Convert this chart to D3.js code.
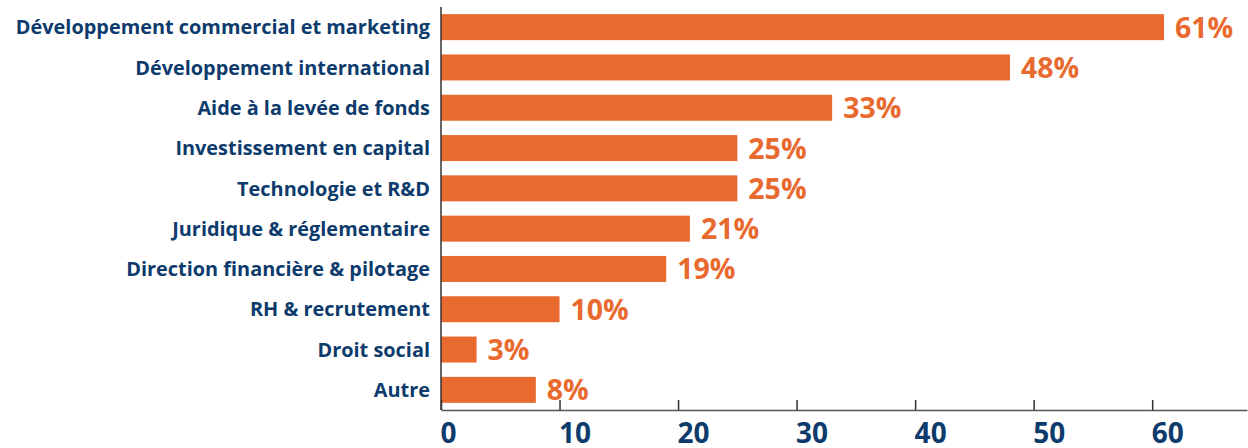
<!DOCTYPE html>
<html>
<head>
<meta charset="utf-8">
<script src="https://cdn.jsdelivr.net/npm/d3@7"></script>
<style>
  html, body { margin: 0; padding: 0; background: #ffffff; }
  svg { display: block; }
</style>
</head>
<body>
<svg id="chart" width="1248" height="448"></svg>
<script>
// Priorités d'accompagnement (% des répondants)
const categories = [
  "Développement commercial et marketing",
  "Développement international",
  "Aide à la levée de fonds",
  "Investissement en capital",
  "Technologie et R&D",
  "Juridique & réglementaire",
  "Direction financière & pilotage",
  "RH & recrutement",
  "Droit social",
  "Autre"
];
const values = [61, 48, 33, 25, 25, 21, 19, 10, 3, 8];
const tickValues = [0, 10, 20, 30, 40, 50, 60];

const orange = "#e96a2e";
const navy = "#0d3b6c";
const font = "'Open Sans', 'Noto Sans', sans-serif";

const svg = d3.select("#chart");

const x = d3.scaleLinear().domain([0, 68]).range([441, 1247]);
const y = d3.scaleBand()
  .domain(categories)
  .range([7, 410])
  .paddingInner(0.355)
  .paddingOuter(0.1775);

// Bars
svg.append("g")
  .selectAll("rect")
  .data(values)
  .join("rect")
  .attr("x", x(0))
  .attr("y", (d, i) => y(categories[i]))
  .attr("width", d => x(d) - x(0))
  .attr("height", y.bandwidth())
  .attr("fill", orange);

// Value labels
svg.append("g")
  .selectAll("text")
  .data(values)
  .join("text")
  .attr("x", d => x(d) + 11)
  .attr("y", (d, i) => y(categories[i]) + y.bandwidth() / 2)
  .attr("dy", "0.37em")
  .attr("font-family", font)
  .attr("font-weight", 700)
  .attr("font-size", 28.5)
  .attr("fill", orange)
  .text(d => d + "%");

// Category labels
svg.append("g")
  .selectAll("text")
  .data(categories)
  .join("text")
  .attr("x", 430)
  .attr("y", d => y(d) + y.bandwidth() / 2)
  .attr("dy", "0.36em")
  .attr("text-anchor", "end")
  .attr("font-family", font)
  .attr("font-weight", 700)
  .attr("font-size", 19.9)
  .attr("fill", navy)
  .text(d => d);

// Vertical baseline
svg.append("line")
  .attr("x1", x(0)).attr("x2", x(0))
  .attr("y1", 7).attr("y2", 410)
  .attr("stroke", "#333").attr("stroke-width", 1.5);

// Bottom axis
const axis = d3.axisBottom(x)
  .tickValues(tickValues)
  .tickSizeInner(-10)
  .tickSizeOuter(0)
  .tickFormat(d3.format("d"));

const gx = svg.append("g")
  .attr("transform", "translate(0,410)")
  .call(axis);

gx.select(".domain").attr("stroke", "#555").attr("stroke-width", 1.5);
gx.selectAll(".tick line").attr("stroke", "#333").attr("stroke-width", 1.5);
gx.selectAll(".tick text")
  .attr("text-anchor", "start")
  .attr("x", -1)
  .attr("y", 0)
  .attr("dy", "1.17em")
  .attr("font-family", font)
  .attr("font-weight", 700)
  .attr("font-size", 28)
  .attr("fill", navy);
</script>
</body>
</html>
